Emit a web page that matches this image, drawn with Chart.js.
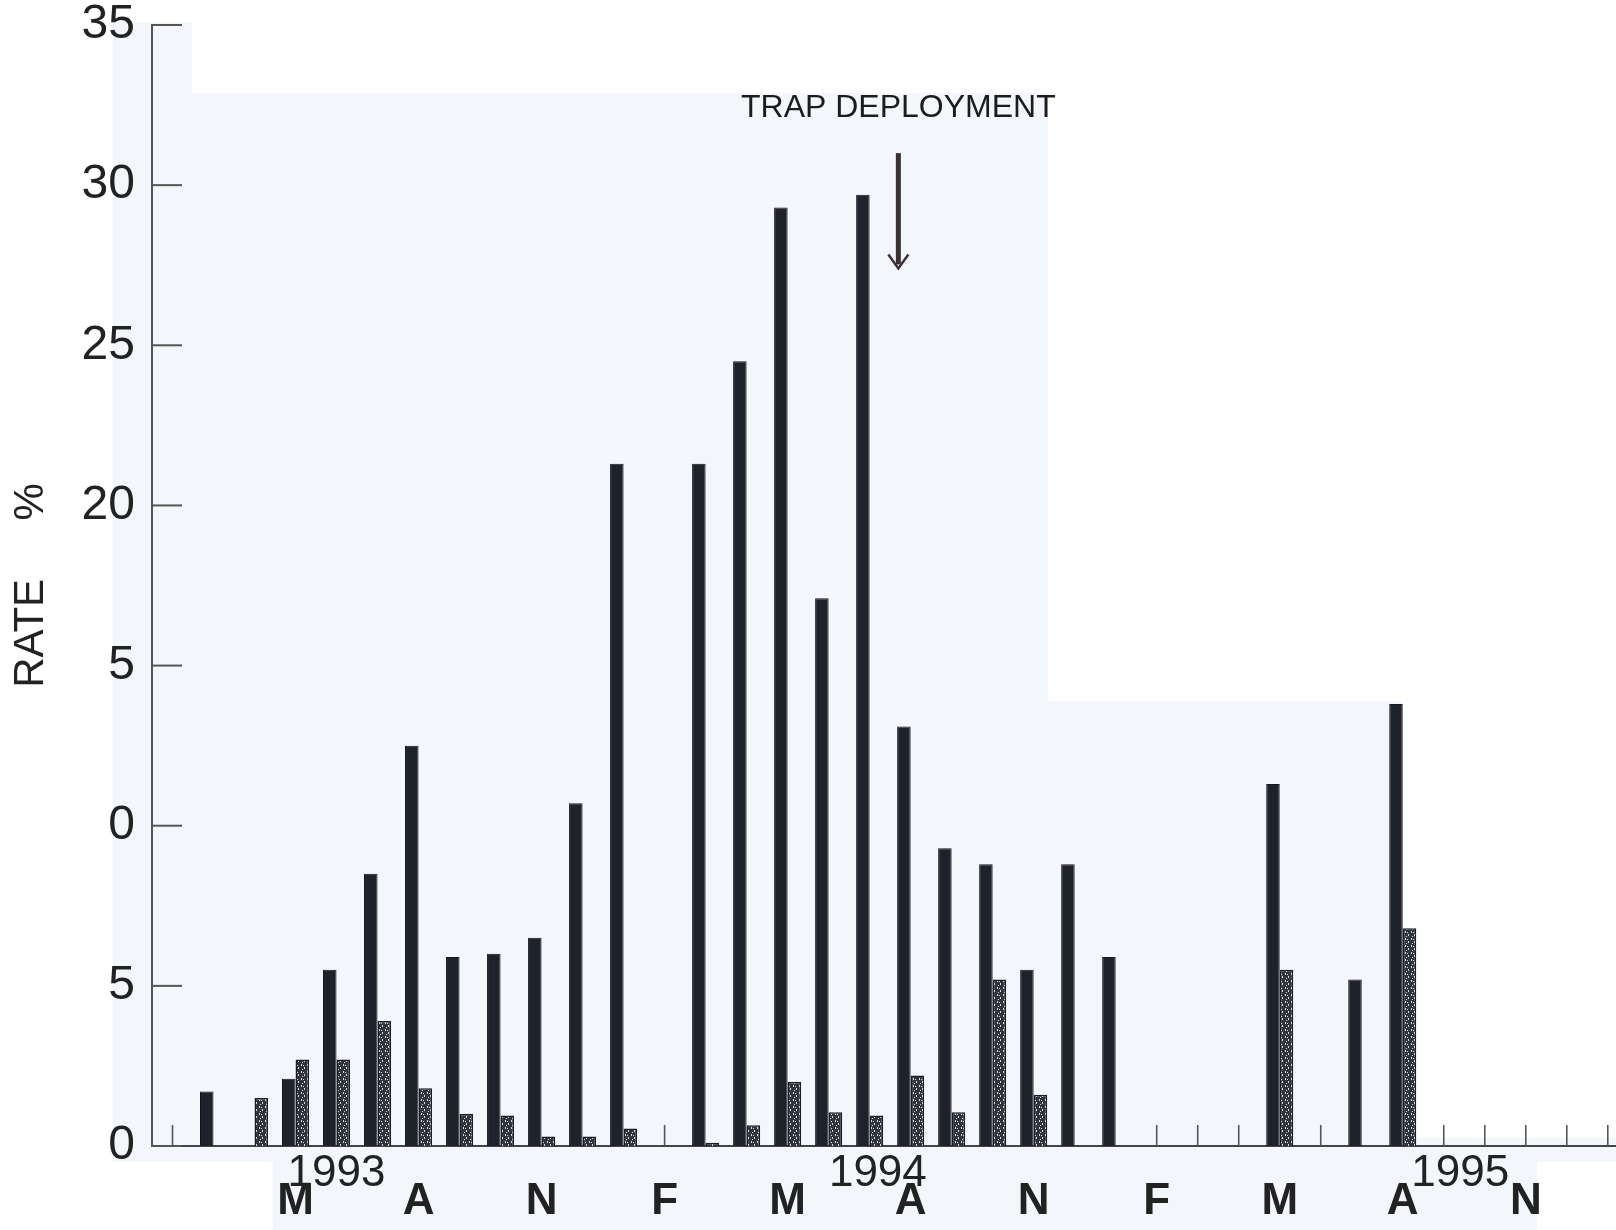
<!DOCTYPE html>
<html>
<head>
<meta charset="utf-8">
<title>Rate % 1993-1995</title>
<script src="https://cdn.jsdelivr.net/npm/chart.js@4.4.1/dist/chart.umd.min.js"></script>
<style>
  html, body { margin: 0; padding: 0; background: #fff; }
</style>
</head>
<body>
<canvas id="rateChart" width="1616" height="1230"></canvas>
<script>
// months on the x axis, Feb 1993 .. Jan 1996
const months = [
  'Feb 1993', 'Mar 1993', 'Apr 1993', 'May 1993', 'Jun 1993', 'Jul 1993',
  'Aug 1993', 'Sep 1993', 'Oct 1993', 'Nov 1993', 'Dec 1993', 'Jan 1994',
  'Feb 1994', 'Mar 1994', 'Apr 1994', 'May 1994', 'Jun 1994', 'Jul 1994',
  'Aug 1994', 'Sep 1994', 'Oct 1994', 'Nov 1994', 'Dec 1994', 'Jan 1995',
  'Feb 1995', 'Mar 1995', 'Apr 1995', 'May 1995', 'Jun 1995', 'Jul 1995',
  'Aug 1995', 'Sep 1995', 'Oct 1995', 'Nov 1995', 'Dec 1995', 'Jan 1996'
];
const monthTickLabels = [
  '', '', '', 'M', '', '', 'A', '', '', 'N', '', '',
  'F', '', '', 'M', '', '', 'A', '', '', 'N', '', '',
  'F', '', '', 'M', '', '', 'A', '', '', 'N', '', ''
];
// solid bars
const darkRate = [
  null, 1.7, null, 2.1, 5.5, 8.5, 12.5, 5.9, 6.0, 6.5, 10.7, 21.3,
  null, 21.3, 24.5, 29.3, 17.1, 29.7, 13.1, 9.3, 8.8, 5.5, 8.8, 5.9,
  null, null, null, 11.3, null, 5.2, 13.8, null, null, null, null, null
];
// stippled bars
const shadedRate = [
  null, null, 1.5, 2.7, 2.7, 3.9, 1.8, 1.0, 0.95, 0.3, 0.3, 0.55,
  null, 0.1, 0.65, 2.0, 1.05, 0.95, 2.2, 1.05, 5.2, 1.6, null, null,
  null, null, null, 5.5, null, null, 6.8, null, null, null, null, null
];
const yTickValues = [0, 5, 10, 15, 20, 25, 30, 35];
const yTickLabels = ['0', '5', '0', '5', '20', '25', '30', '35'];
const yearLabels = ['1993', '1994', '1995'];
const yearLabelAt = [4, 17.2, 31.4];
const trapLabel = 'TRAP DEPLOYMENT';
const trapAt = 17.7;

Chart.defaults.font.family = '"Liberation Sans", Arial, sans-serif';
Chart.defaults.color = '#222';

// stipple fill for the second series
function stipple() {
  const c = document.createElement('canvas');
  c.width = 6; c.height = 7;
  const g = c.getContext('2d');
  g.fillStyle = '#30343c';
  g.fillRect(0, 0, 6, 7);
  g.fillStyle = '#d4d8de';
  g.fillRect(1, 0, 1, 2);
  g.fillRect(4, 3, 1, 2);
  g.fillRect(2, 5, 1, 1);
  g.fillRect(3, 1, 1, 1);
  return g.createPattern(c, 'repeat');
}

const scanDecor = {
  id: 'scanDecor',
  beforeDraw(chart) {
    const ctx = chart.ctx;
    ctx.save();
    ctx.fillStyle = '#fff';
    ctx.fillRect(0, 0, chart.width, chart.height);
    // lighter scanned paper patches
    ctx.fillStyle = '#f3f6fb';
    ctx.fillRect(113, 22, 79, 72);
    ctx.fillRect(113, 93, 935, 1069);
    ctx.fillRect(273, 1160, 1264, 70);
    ctx.fillRect(1048, 701, 355, 461);
    ctx.fillRect(1403, 1138, 213, 24);
    ctx.restore();
  },
  afterDraw(chart) {
    const ctx = chart.ctx;
    const x = chart.scales.x;
    const y = chart.scales.y;
    const area = chart.chartArea;
    ctx.save();
    // inward y ticks
    ctx.strokeStyle = '#555';
    ctx.lineWidth = 2;
    yTickValues.forEach(v => {
      const py = y.getPixelForValue(v);
      ctx.beginPath();
      ctx.moveTo(area.left, py);
      ctx.lineTo(area.left + 30, py);
      ctx.stroke();
    });
    // tick for months without bars
    ctx.lineWidth = 1.6;
    months.forEach((m, i) => {
      if (darkRate[i] === null && shadedRate[i] === null) {
        const px = x.getPixelForValue(i);
        ctx.beginPath();
        ctx.moveTo(px, area.bottom);
        ctx.lineTo(px, area.bottom - 21);
        ctx.stroke();
      }
    });
    // years
    ctx.fillStyle = '#222';
    ctx.font = '44px "Liberation Sans", Arial, sans-serif';
    ctx.textAlign = 'center';
    ctx.textBaseline = 'middle';
    yearLabels.forEach((t, i) => {
      ctx.fillText(t, x.getPixelForValue(yearLabelAt[i]), area.bottom + 28);
    });
    // trap deployment marker
    const ax = x.getPixelForValue(trapAt);
    ctx.font = '32px "Liberation Sans", Arial, sans-serif';
    ctx.fillStyle = '#1c1c1c';
    ctx.fillText(trapLabel, ax, y.getPixelForValue(32.4));
    const top = y.getPixelForValue(31.0);
    const tip = y.getPixelForValue(27.4);
    ctx.strokeStyle = '#3a3034';
    ctx.lineWidth = 5;
    ctx.beginPath();
    ctx.moveTo(ax, top);
    ctx.lineTo(ax, tip - 4);
    ctx.stroke();
    ctx.lineWidth = 2.5;
    ctx.beginPath();
    ctx.moveTo(ax - 10, tip - 14);
    ctx.lineTo(ax, tip);
    ctx.lineTo(ax + 10, tip - 14);
    ctx.stroke();
    ctx.restore();
  }
};

const ctx = document.getElementById('rateChart').getContext('2d');
new Chart(ctx, {
  type: 'bar',
  data: {
    datasets: [
      {
        label: 'Rate',
        data: darkRate.map((v, i) => ({ x: i, y: v })),
        backgroundColor: '#1d222b',
        borderColor: '#14181f',
        borderWidth: 1,
        barPercentage: 1.0,
        categoryPercentage: 0.66,
      },
      {
        label: 'Rate (stippled)',
        data: shadedRate.map((v, i) => ({ x: i, y: v })),
        backgroundColor: stipple(),
        borderColor: '#1a1d24',
        borderWidth: 1.5,
        barPercentage: 1.0,
        categoryPercentage: 0.66,
      },
    ],
  },
  options: {
    responsive: false,
    animation: false,
    layout: { padding: 0 },
    plugins: {
      legend: { display: false },
      tooltip: { enabled: false },
    },
    scales: {
      x: {
        type: 'linear',
        offset: false,
        min: -0.5,
        max: 35.2,
        grid: { display: false, drawTicks: false, offset: false },
        border: { display: true, color: '#444', width: 2 },
        afterBuildTicks: (s) => { s.ticks = months.map((m, i) => ({ value: i })); },
        afterFit: (s) => { s.height = 84; s.paddingLeft = 0; s.paddingRight = 0; },
        ticks: {
          autoSkip: false,
          maxRotation: 0,
          padding: 29,
          font: { size: 44, weight: 'bold' },
          color: '#222',
          callback: (v) => monthTickLabels[v] || '',
        },
      },
      y: {
        min: 0,
        max: 35,
        grid: { display: false, drawTicks: false },
        border: { display: true, color: '#555', width: 2 },
        afterBuildTicks: (s) => { s.ticks = yTickValues.map(v => ({ value: v })); },
        afterFit: (s) => { s.width = 152; s.paddingTop = 25; s.paddingBottom = 0; },
        title: {
          display: true,
          text: 'RATE     %',
          font: { size: 42 },
          color: '#222',
          padding: { top: 6, bottom: 0 },
        },
        ticks: {
          padding: 17,
          font: { size: 48, lineHeight: 1.0 },
          color: '#222',
          callback: (v, i) => yTickLabels[i],
        },
      },
    },
  },
  plugins: [scanDecor],
});
</script>
</body>
</html>
